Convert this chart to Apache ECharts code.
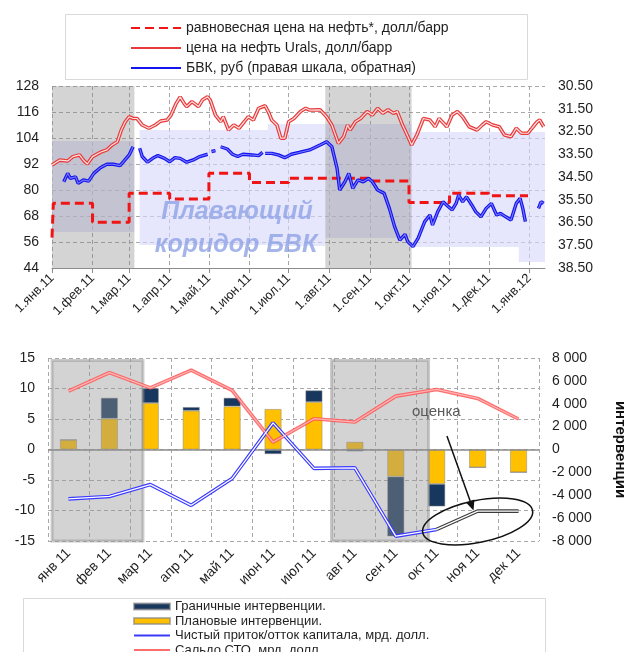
<!DOCTYPE html>
<html><head><meta charset="utf-8">
<script src="https://cdn.jsdelivr.net/npm/echarts@6/dist/echarts.min.js"></script>
<style>html,body{margin:0;padding:0;background:#fff}#c{width:625px;height:652px}</style>
</head><body><div id="c"></div>
<script>
// ---------- DATA ----------
const monthAbbr = ['янв','фев','мар','апр','май','июн','июл','авг','сен','окт','ноя','дек'];
const dayRange = ['2011-01-01', '2012-01-13'];
const leftTicks = [44, 56, 68, 80, 92, 104, 116, 128];
const rightTicks = [30.5, 31.5, 32.5, 33.5, 34.5, 35.5, 36.5, 37.5, 38.5];

// equilibrium oil price (step), USD/bbl
const equilibrium = [
  ['2011-01-01',58],['2011-01-02',73.9],['2011-02-01',65.1],['2011-03-01',78.5],['2011-04-01',75.8],
  ['2011-05-01',87.7],['2011-06-01',83.5],['2011-07-01',85.4],['2011-09-01',84.2],['2011-10-01',74.2],
  ['2011-11-01',78.5],['2011-12-01',77.4],['2011-12-31',77.4]
];
// Urals price, USD/bbl
const urals = [
  ['2011-01-01',91.5],['2011-01-07',93.8],['2011-01-13',93.4],['2011-01-17',95.4],['2011-01-22',96.2],['2011-01-25',93.8],
  ['2011-01-28',92.0],['2011-02-01',95.4],['2011-02-07',97.4],['2011-02-12',98.5],['2011-02-16',100.8],['2011-02-20',102.3],
  ['2011-02-23',107.7],['2011-02-26',111.5],['2011-03-01',113.8],['2011-03-04',113.0],['2011-03-07',113.0],['2011-03-11',110.0],
  ['2011-03-16',108.5],['2011-03-21',110.0],['2011-03-25',111.8],['2011-03-30',112.3],['2011-04-02',114.6],['2011-04-06',120.0],
  ['2011-04-09',123.0],['2011-04-12',120.0],['2011-04-14',118.5],['2011-04-18',120.8],['2011-04-23',118.5],['2011-04-26',121.5],
  ['2011-04-30',123.0],['2011-05-02',121.5],['2011-05-06',114.6],['2011-05-10',111.5],['2011-05-12',113.8],['2011-05-16',107.7],
  ['2011-05-20',110.0],['2011-05-24',108.5],['2011-05-28',111.5],['2011-05-31',113.8],['2011-06-04',112.3],['2011-06-08',117.7],
  ['2011-06-13',118.9],['2011-06-16',115.4],['2011-06-18',112.3],['2011-06-22',110.0],['2011-06-25',103.9],['2011-06-28',103.9],
  ['2011-07-01',111.5],['2011-07-05',113.0],['2011-07-10',116.2],['2011-07-14',117.7],['2011-07-17',116.9],['2011-07-25',117.0],
  ['2011-07-30',113.8],['2011-08-03',110.0],['2011-08-08',101.5],['2011-08-12',104.6],['2011-08-15',110.0],['2011-08-17',107.7],
  ['2011-08-21',111.5],['2011-08-25',113.0],['2011-08-30',116.2],['2011-09-03',114.6],['2011-09-07',117.7],['2011-09-11',115.4],
  ['2011-09-15',117.0],['2011-09-19',115.4],['2011-09-22',116.2],['2011-09-26',110.0],['2011-09-29',106.2],['2011-10-03',100.8],
  ['2011-10-07',105.4],['2011-10-12',113.0],['2011-10-17',112.3],['2011-10-21',109.2],['2011-10-24',113.0],['2011-10-30',109.2],
  ['2011-11-03',114.6],['2011-11-07',116.2],['2011-11-11',113.8],['2011-11-16',109.2],['2011-11-22',107.7],['2011-11-26',110.0],
  ['2011-11-29',111.5],['2011-12-04',110.0],['2011-12-09',109.2],['2011-12-13',105.4],['2011-12-18',104.6],['2011-12-22',108.5],
  ['2011-12-26',106.2],['2011-12-31',106.2],['2012-01-03',108.5],['2012-01-07',111.5],['2012-01-09',112.3],['2012-01-12',109.2]
];
// dual-currency basket (BVK), rub (right axis, inverted)
const bvk = [
  ['2011-01-01',34.93],['2011-01-04',null],
  ['2011-01-10',34.71],['2011-01-13',34.34],['2011-01-15',34.56],['2011-01-19',34.49],['2011-01-21',34.78],['2011-01-25',34.63],
  ['2011-01-29',34.68],['2011-02-02',34.34],['2011-02-07',34.09],['2011-02-12',33.94],['2011-02-17',33.94],['2011-02-22',34.0],
  ['2011-02-25',33.8],['2011-03-01',33.53],['2011-03-04',33.17],['2011-03-06',null],
  ['2011-03-09',33.24],['2011-03-11',33.6],['2011-03-15',33.85],['2011-03-19',33.68],['2011-03-23',33.56],['2011-03-28',33.68],
  ['2011-04-01',33.83],['2011-04-05',33.65],['2011-04-09',33.68],['2011-04-14',33.85],['2011-04-19',33.75],['2011-04-24',33.6],
  ['2011-04-30',33.5],['2011-05-02',null],['2011-05-03',33.38],['2011-05-06',33.34],['2011-05-08',null],
  ['2011-05-10',33.17],['2011-05-15',33.27],['2011-05-19',33.5],['2011-05-23',33.6],['2011-05-27',33.5],['2011-06-03',33.53],
  ['2011-06-08',33.56],['2011-06-11',33.42],['2011-06-12',null],
  ['2011-06-13',33.46],['2011-06-18',33.46],['2011-06-23',33.53],['2011-06-28',33.65],['2011-07-03',33.5],['2011-07-09',33.42],
  ['2011-07-17',33.31],['2011-07-25',33.09],['2011-07-30',32.95],['2011-08-03',33.17],['2011-08-07',34.12],['2011-08-09',35.07],
  ['2011-08-13',34.71],['2011-08-16',34.34],['2011-08-19',35.0],['2011-08-23',34.63],['2011-08-27',34.71],['2011-08-31',34.56],
  ['2011-09-03',34.71],['2011-09-07',35.07],['2011-09-12',35.22],['2011-09-16',35.88],['2011-09-20',36.68],['2011-09-24',37.27],
  ['2011-09-28',37.02],['2011-09-30',37.34],['2011-10-04',37.56],['2011-10-08',37.19],['2011-10-13',36.46],['2011-10-17',36.17],
  ['2011-10-19',36.61],['2011-10-23',36.02],['2011-10-27',35.59],['2011-10-31',35.8],['2011-11-03',35.95],['2011-11-06',35.66],
  ['2011-11-08',35.29],['2011-11-11',35.59],['2011-11-14',35.37],['2011-11-18',35.73],['2011-11-21',36.02],['2011-11-25',36.25],
  ['2011-11-29',35.88],['2011-12-03',35.66],['2011-12-07',36.17],['2011-12-10',36.1],['2011-12-14',36.25],['2011-12-18',36.39],
  ['2011-12-22',35.66],['2011-12-25',35.44],['2011-12-27',35.88],['2011-12-29',36.46],['2012-01-02',null],
  ['2012-01-08',35.88],['2012-01-10',35.59],['2012-01-12',35.66]
];
// floating corridor: [start, end, upper (rub), lower (rub)]
const corridor = [
  ['2011-01-01','2011-03-05',32.92,36.92],
  ['2011-03-09','2011-06-15',32.43,37.49],
  ['2011-06-15','2011-07-29',32.17,37.53],
  ['2011-07-29','2011-10-03',32.17,37.18],
  ['2011-10-03','2011-12-24',32.52,37.58],
  ['2011-12-24','2012-01-13',32.52,38.24]
];
const shadedPeriods = [['2011-01-01','2011-03-05'],['2011-07-29','2011-10-03']];

// bottom chart
const months = ['янв 11','фев 11','мар 11','апр 11','май 11','июн 11','июл 11','авг 11','сен 11','окт 11','ноя 11','дек 11'];
const planned = [850, 2700, 4060, 3390, 3770, 3540, 4150, 670, -2370, -3010, -1570, -2000];
const boundary = [0, 1820, 1300, 320, 750, -400, 1020, -170, -5220, -1970, 0, 0];
const capitalFlow = [-8.1, -7.7, -5.75, -9.15, -4.76, 4.37, -3.1, -3.0, -14.2, -13.1, null, null];
const capitalEstimate = [null, null, null, null, null, null, null, null, null, -13.1, -10.1, -10.1];
const currentAccount = [9.57, 12.6, 10.1, 13.0, 9.7, 1.2, 5.05, 4.5, 8.75, 9.85, 8.37, 5.0];
const shadedMonths = [[0.1, 2.32], [6.93, 9.3]]; // in month units

// ---------- HELPERS ----------
const FONT = '"Liberation Sans", Arial, sans-serif';
const TXT = '#1f1f1f';
function buildDays(a, b) {
  const out = [];
  const p = s => s.split('-').map(Number);
  const [y1, m1, d1] = p(a), [y2, m2, d2] = p(b);
  let t = Date.UTC(y1, m1 - 1, d1); const end = Date.UTC(y2, m2 - 1, d2);
  while (t <= end) { out.push(new Date(t).toISOString().slice(0, 10)); t += 86400000; }
  return out;
}
const days = buildDays(dayRange[0], dayRange[1]);
const isMonthStart = (i, v) => v.slice(8) === '01';
const fmtDay = v => '1.' + monthAbbr[+v.slice(5, 7) - 1] + '.' + v.slice(2, 4);
const fmtThousands = v => (v < 0 ? '-' : '') + String(Math.abs(v)).replace(/\B(?=(\d{3})+(?!\d))/g, ' ');
const grid = { type: [4, 3], color: '#a8a8a8', width: 1 };

function dbl(base, outer, inner) {
  return [
    Object.assign({}, base, { lineStyle: outer, z: 5 }),
    Object.assign({}, base, { lineStyle: inner, z: 6 })
  ];
}

const L1 = 'равновесная цена на нефть*, долл/барр';
const L2 = 'цена на нефть Urals, долл/барр';
const L3 = 'БВК, руб (правая шкала, обратная)';
const B1 = 'Граничные интервенции.';
const B2 = 'Плановые интервенции.';
const B3 = 'Чистый приток/отток капитала, мрд. долл.';
const B4 = 'Сальдо СТО, мрд. долл.';

const chart = echarts.init(document.getElementById('c'), null, { renderer: 'canvas' });

const series = [
  // corridor band
  { type: 'line', name: 'corridor', xAxisIndex: 0, yAxisIndex: 1, data: [], silent: true,
    markArea: { silent: true, z: 1, itemStyle: { color: 'rgba(214,214,250,0.62)' },
      data: corridor.map(c => [{ xAxis: c[0], yAxis: c[2] }, { xAxis: c[1], yAxis: c[3] }]) } },
  // grey periods top
  { type: 'line', name: 'shadeTop', xAxisIndex: 0, yAxisIndex: 0, data: [], silent: true,
    markArea: { silent: true, z: 2, itemStyle: { color: 'rgba(128,128,128,0.34)' },
      data: shadedPeriods.map(p => [{ xAxis: p[0] }, { xAxis: p[1] }]) } },
  { type: 'line', name: L1, xAxisIndex: 0, yAxisIndex: 0, data: equilibrium, step: 'end', symbol: 'none', z: 5,
    lineStyle: { color: '#f01414', width: 3, type: [9, 5] } },
  ...dbl({ type: 'line', name: L2, xAxisIndex: 0, yAxisIndex: 0, data: urals, symbol: 'none' },
    { color: '#e83a3a', width: 3.6 }, { color: '#ffe0e0', width: 1.2 }),
  ...dbl({ type: 'line', name: L3, xAxisIndex: 0, yAxisIndex: 1, data: bvk, symbol: 'none', connectNulls: false },
    { color: '#1414ee', width: 3.4 }, { color: '#7a7aff', width: 1.1 }),

  // bottom bars
  { type: 'bar', name: B2, xAxisIndex: 1, yAxisIndex: 3, stack: 'iv', data: planned, barWidth: 17, z: 2,
    itemStyle: { color: '#ffc000', borderColor: 'rgba(130,130,130,0.6)', borderWidth: 0.8 } },
  { type: 'bar', name: B1, xAxisIndex: 1, yAxisIndex: 3, stack: 'iv', data: boundary, barWidth: 17, z: 2,
    itemStyle: { color: '#17375e', borderColor: 'rgba(130,130,130,0.6)', borderWidth: 0.8 } },
  // grey periods bottom + zero line
  { type: 'line', name: 'shadeBottom', xAxisIndex: 2, yAxisIndex: 2, data: [], silent: true, z: 3,
    markArea: { silent: true, z: 3, itemStyle: { color: 'rgba(150,150,150,0.42)', borderColor: 'rgba(150,150,150,0.5)', borderWidth: 3 },
      data: shadedMonths.map(p => [{ xAxis: p[0], yAxis: 14.6 }, { xAxis: p[1], yAxis: -15 }]) },
    markLine: { silent: true, z: 4, symbol: ['none', 'none'], label: { show: false },
      lineStyle: { color: '#8c8c8c', type: 'solid', width: 1.5 }, data: [{ yAxis: 0 }] } },
  ...dbl({ type: 'line', name: B4, xAxisIndex: 1, yAxisIndex: 2, data: currentAccount, symbol: 'none' },
    { color: 'rgba(255,85,85,0.85)', width: 3.6 }, { color: '#ffb4b4', width: 1.2 }),
  ...dbl({ type: 'line', name: B3, xAxisIndex: 1, yAxisIndex: 2, data: capitalFlow, symbol: 'none' },
    { color: '#3a3aff', width: 3.6 }, { color: '#ffffff', width: 1.3 }),
  ...dbl({ type: 'line', name: 'оценка', xAxisIndex: 1, yAxisIndex: 2, data: capitalEstimate, symbol: 'none' },
    { color: '#3c3c3c', width: 3.6 }, { color: '#ffffff', width: 1.3 })
];

const noSym = { opacity: 0 };
const option = {
  animation: false,
  backgroundColor: '#ffffff',
  textStyle: { fontFamily: FONT },
  grid: [
    { left: 52, right: 80, top: 86, bottom: 384, containLabel: false, outerBoundsMode: 'none' },
    { left: 48, right: 86, top: 358, bottom: 111, containLabel: false, outerBoundsMode: 'none' }
  ],
  xAxis: [
    { type: 'category', gridIndex: 0, data: days, boundaryGap: false,
      axisLine: { onZero: false, lineStyle: { color: '#8c8c8c', width: 1 } },
      axisTick: { interval: isMonthStart, length: 5, lineStyle: { color: '#8c8c8c' } },
      axisLabel: { interval: isMonthStart, rotate: 45, margin: 8, fontSize: 13, color: TXT, fontFamily: FONT, formatter: fmtDay },
      splitLine: { show: true, interval: isMonthStart, lineStyle: grid } },
    { type: 'category', gridIndex: 1, data: months, boundaryGap: true,
      axisLine: { show: false, onZero: false }, axisTick: { show: false },
      axisLabel: { interval: 0, rotate: 45, margin: 10, fontSize: 14, color: TXT, fontFamily: FONT },
      splitLine: { show: true, interval: 0, lineStyle: grid } },
    { type: 'value', gridIndex: 1, min: 0, max: 12, show: false, splitLine: { show: false } }
  ],
  yAxis: [
    { type: 'value', gridIndex: 0, min: 44, max: 128,
      axisLine: { show: false }, axisTick: { show: false, customValues: leftTicks },
      axisLabel: { customValues: leftTicks, fontSize: 14, color: TXT, margin: 13, fontFamily: FONT },
      splitLine: { show: true, lineStyle: grid } },
    { type: 'value', gridIndex: 0, min: 30.5, max: 38.5, inverse: true, position: 'right',
      axisLine: { show: false }, axisTick: { show: false, customValues: rightTicks },
      axisLabel: { customValues: rightTicks, fontSize: 14, color: TXT, margin: 13, fontFamily: FONT, formatter: v => v.toFixed(2) },
      splitLine: { show: false } },
    { type: 'value', gridIndex: 1, min: -15, max: 15, interval: 5,
      axisLine: { show: false }, axisTick: { show: false },
      axisLabel: { fontSize: 14, color: TXT, margin: 13, fontFamily: FONT },
      splitLine: { show: true, lineStyle: grid } },
    { type: 'value', gridIndex: 1, min: -8000, max: 8000, interval: 2000, position: 'right',
      axisLine: { show: false }, axisTick: { show: false },
      axisLabel: { fontSize: 14, color: TXT, margin: 13, fontFamily: FONT, formatter: fmtThousands },
      splitLine: { show: false },
      name: 'интервенции', nameLocation: 'middle', nameRotate: -90, nameGap: 74,
      nameTextStyle: { fontSize: 15, fontWeight: 'bold', color: '#111', fontFamily: FONT } }
  ],
  legend: [
    { data: [{ name: L1, itemStyle: noSym }, { name: L2, itemStyle: noSym }, { name: L3, itemStyle: noSym }],
      orient: 'vertical', left: 130, top: 21, itemWidth: 50, itemHeight: 12, itemGap: 6,
      selectedMode: false, padding: 0, textStyle: { fontSize: 14, color: TXT, fontFamily: FONT } },
    { data: [{ name: B1, icon: 'rect' }, { name: B2, icon: 'rect' }, { name: B3, itemStyle: noSym }, { name: B4, itemStyle: noSym }],
      orient: 'vertical', left: 133, top: 600, height: 120, width: 420,
      itemWidth: 36, itemHeight: 6, itemGap: 1.5, selectedMode: false, padding: 0,
      textStyle: { fontSize: 13, color: TXT, fontFamily: FONT } }
  ],
  series: series
};
chart.setOption(option);

// ---------- annotations ----------
const px = v => chart.convertToPixel({ xAxisIndex: 2, yAxisIndex: 2 }, v);
const ec = px([10.5, -11.8]);
const a0 = px([9.75, 2.2]), a1 = px([10.4, -10.0]);
const lbl = px([9.49, 6.1]);
const dx = a1[0] - a0[0], dy = a1[1] - a0[1], len = Math.hypot(dx, dy);
const ux = dx / len, uy = dy / len, hs = 10, hw = 4.5;
const tip = a1, base = [a1[0] - ux * hs, a1[1] - uy * hs];
const head = [tip, [base[0] - uy * hw, base[1] + ux * hw], [base[0] + uy * hw, base[1] - ux * hw]];

chart.setOption({
  graphic: [
    { type: 'rect', z: -1, shape: { x: 65.5, y: 14.5, width: 462, height: 65 }, style: { fill: '#fff', stroke: '#d9d9d9', lineWidth: 1 } },
    { type: 'rect', z: -1, shape: { x: 23.5, y: 598.5, width: 522, height: 80 }, style: { fill: '#fff', stroke: '#d9d9d9', lineWidth: 1 } },
    { type: 'text', x: 237, y: 212, z: 10, style: { text: 'Плавающий', font: 'italic bold 25px ' + FONT, fill: 'rgba(140,160,228,0.78)', align: 'center', verticalAlign: 'middle' } },
    { type: 'text', x: 236, y: 245, z: 10, style: { text: 'коридор БВК', font: 'italic bold 25px ' + FONT, fill: 'rgba(140,160,228,0.78)', align: 'center', verticalAlign: 'middle' } },
    { type: 'ellipse', x: ec[0], y: ec[1], rotation: 0.2, z: 20, shape: { cx: 0, cy: 0, rx: 56, ry: 21 }, style: { fill: 'none', stroke: '#111', lineWidth: 1.5 } },
    { type: 'line', z: 20, shape: { x1: a0[0], y1: a0[1], x2: base[0], y2: base[1] }, style: { stroke: '#111', lineWidth: 1.5 } },
    { type: 'polygon', z: 20, shape: { points: head }, style: { fill: '#111' } },
    { type: 'text', x: lbl[0], y: lbl[1], z: 20, style: { text: 'оценка', font: '15px ' + FONT, fill: '#595959', align: 'center', verticalAlign: 'middle' } }
  ]
});
</script>
</body></html>
